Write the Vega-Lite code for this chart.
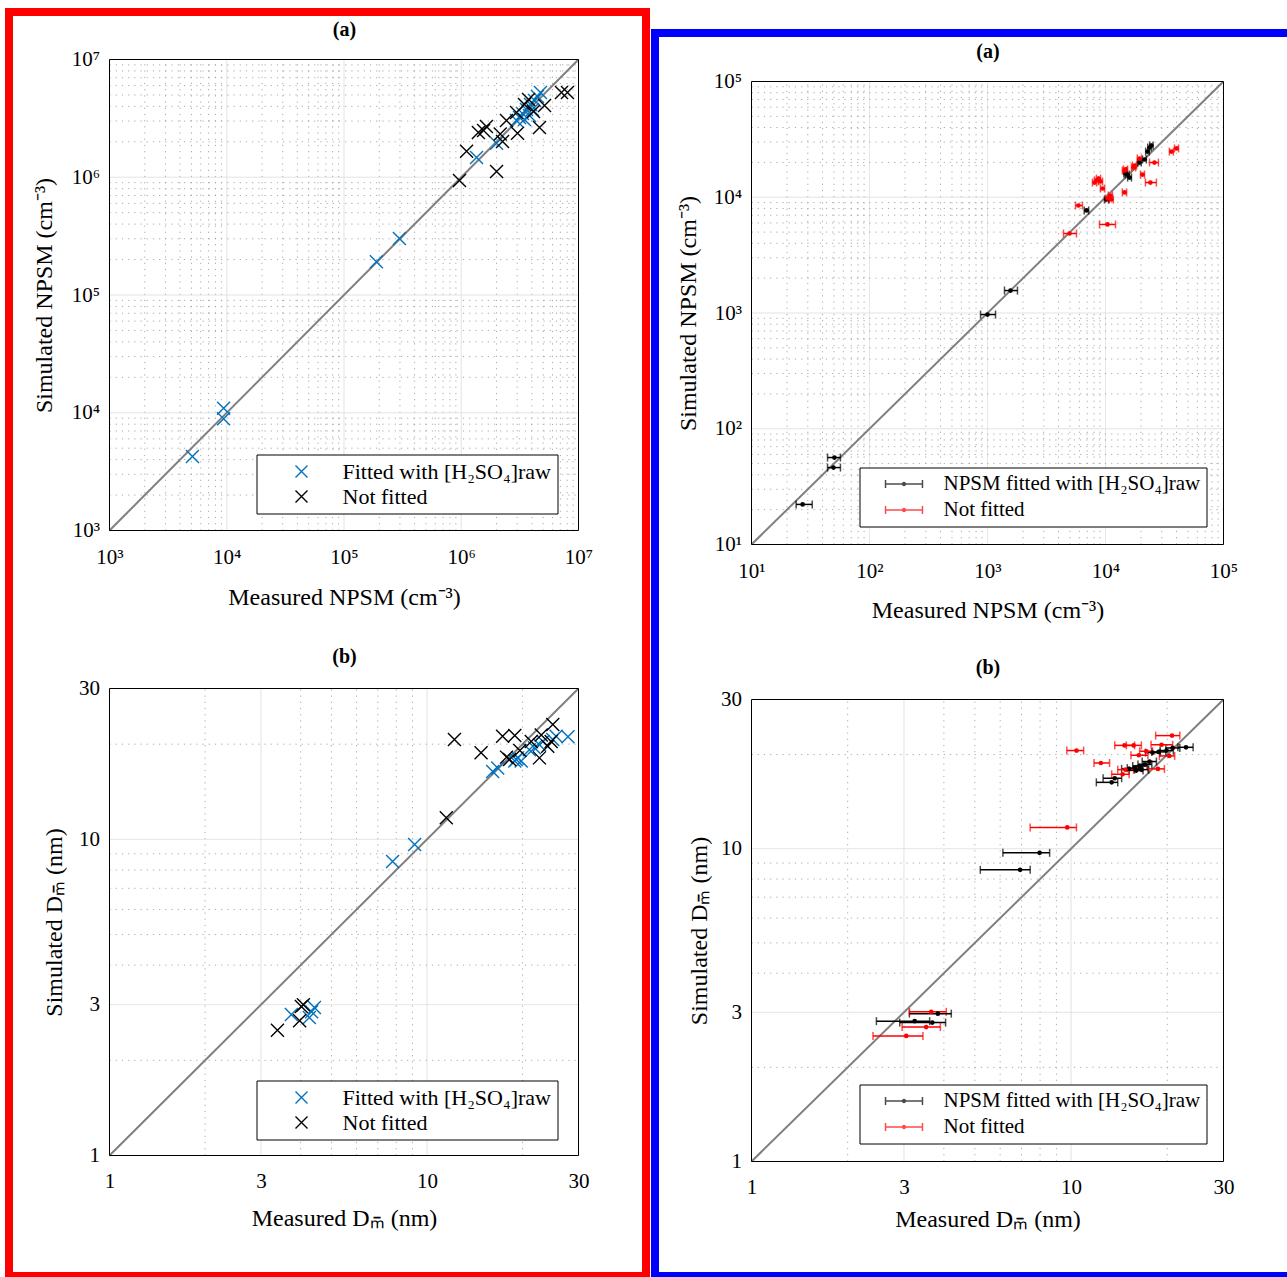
{
  "$schema": "https://vega.github.io/schema/vega-lite/v6.json",
  "background": "white",
  "padding": {"left": 5, "top": 8, "right": 0, "bottom": 0},
  "spacing": 1,
  "config": {
    "font": "Liberation Serif",
    "axis": {"labelFont": "Liberation Serif", "titleFont": "Liberation Serif", "labelFontSize": 21, "titleFontSize": 24, "labelColor": "black", "titleColor": "black", "titleFontWeight": "normal", "labelFlush": false, "labelOverlap": false, "ticks": false, "domain": false, "grid": false, "minExtent": 0},
    "legend": {"labelFont": "Liberation Serif", "labelFontSize": 21, "labelColor": "black", "labelLimit": 500}
  },
  "datasets": {
    "boxA": [{"lo": 1000, "hi": 10000000}],
    "boxB": [{"lo": 1, "hi": 30}],
    "boxR": [{"lo": 10, "hi": 100000}],
    "lineA": [{"v": 1000}, {"v": 10000000}],
    "lineB": [{"v": 1}, {"v": 30}],
    "lineR": [{"v": 10}, {"v": 100000}],
    "tA": [
      {"t": 1000, "m": 1}, {"t": 2000, "m": 0}, {"t": 3000, "m": 0}, {"t": 4000, "m": 0}, {"t": 5000, "m": 0}, {"t": 6000, "m": 0}, {"t": 7000, "m": 0}, {"t": 8000, "m": 0}, {"t": 9000, "m": 0},
      {"t": 10000, "m": 1}, {"t": 20000, "m": 0}, {"t": 30000, "m": 0}, {"t": 40000, "m": 0}, {"t": 50000, "m": 0}, {"t": 60000, "m": 0}, {"t": 70000, "m": 0}, {"t": 80000, "m": 0}, {"t": 90000, "m": 0},
      {"t": 100000, "m": 1}, {"t": 200000, "m": 0}, {"t": 300000, "m": 0}, {"t": 400000, "m": 0}, {"t": 500000, "m": 0}, {"t": 600000, "m": 0}, {"t": 700000, "m": 0}, {"t": 800000, "m": 0}, {"t": 900000, "m": 0},
      {"t": 1000000, "m": 1}, {"t": 2000000, "m": 0}, {"t": 3000000, "m": 0}, {"t": 4000000, "m": 0}, {"t": 5000000, "m": 0}, {"t": 6000000, "m": 0}, {"t": 7000000, "m": 0}, {"t": 8000000, "m": 0}, {"t": 9000000, "m": 0},
      {"t": 10000000, "m": 1}
    ],
    "tR": [
      {"t": 10, "m": 1}, {"t": 20, "m": 0}, {"t": 30, "m": 0}, {"t": 40, "m": 0}, {"t": 50, "m": 0}, {"t": 60, "m": 0}, {"t": 70, "m": 0}, {"t": 80, "m": 0}, {"t": 90, "m": 0},
      {"t": 100, "m": 1}, {"t": 200, "m": 0}, {"t": 300, "m": 0}, {"t": 400, "m": 0}, {"t": 500, "m": 0}, {"t": 600, "m": 0}, {"t": 700, "m": 0}, {"t": 800, "m": 0}, {"t": 900, "m": 0},
      {"t": 1000, "m": 1}, {"t": 2000, "m": 0}, {"t": 3000, "m": 0}, {"t": 4000, "m": 0}, {"t": 5000, "m": 0}, {"t": 6000, "m": 0}, {"t": 7000, "m": 0}, {"t": 8000, "m": 0}, {"t": 9000, "m": 0},
      {"t": 10000, "m": 1}, {"t": 20000, "m": 0}, {"t": 30000, "m": 0}, {"t": 40000, "m": 0}, {"t": 50000, "m": 0}, {"t": 60000, "m": 0}, {"t": 70000, "m": 0}, {"t": 80000, "m": 0}, {"t": 90000, "m": 0},
      {"t": 100000, "m": 1}
    ],
    "tB": [
      {"t": 1, "m": 1}, {"t": 2, "m": 0}, {"t": 3, "m": 1}, {"t": 4, "m": 0}, {"t": 5, "m": 0}, {"t": 6, "m": 0}, {"t": 7, "m": 0}, {"t": 8, "m": 0}, {"t": 9, "m": 0},
      {"t": 10, "m": 1}, {"t": 20, "m": 0}, {"t": 30, "m": 1}
    ],
    "LA": [
      {"x": 5100, "y": 4250, "g": "F"}, {"x": 9400, "y": 10900, "g": "F"}, {"x": 9400, "y": 8900, "g": "F"},
      {"x": 189000, "y": 192000, "g": "F"}, {"x": 297000, "y": 302000, "g": "F"}, {"x": 1350000, "y": 1470000, "g": "F"},
      {"x": 2000000, "y": 1940000, "g": "F"}, {"x": 4740000, "y": 5250000, "g": "F"}, {"x": 4470000, "y": 4850000, "g": "F"},
      {"x": 4220000, "y": 4490000, "g": "F"}, {"x": 3900000, "y": 4150000, "g": "F"}, {"x": 3600000, "y": 3760000, "g": "F"},
      {"x": 3330000, "y": 3480000, "g": "F"}, {"x": 3140000, "y": 3210000, "g": "F"}, {"x": 3460000, "y": 3090000, "g": "F"},
      {"x": 3820000, "y": 3340000, "g": "F"}, {"x": 4050000, "y": 3760000, "g": "F"}, {"x": 2960000, "y": 3030000, "g": "F"},
      {"x": 966000, "y": 938000, "g": "N"}, {"x": 1110000, "y": 1660000, "g": "N"}, {"x": 1400000, "y": 2400000, "g": "N"},
      {"x": 1640000, "y": 2700000, "g": "N"}, {"x": 1550000, "y": 2500000, "g": "N"}, {"x": 2000000, "y": 1120000, "g": "N"},
      {"x": 2250000, "y": 2010000, "g": "N"}, {"x": 2150000, "y": 2330000, "g": "N"}, {"x": 2430000, "y": 3030000, "g": "N"},
      {"x": 3020000, "y": 2360000, "g": "N"}, {"x": 2960000, "y": 3550000, "g": "N"}, {"x": 3460000, "y": 4150000, "g": "N"},
      {"x": 3750000, "y": 4570000, "g": "N"}, {"x": 4130000, "y": 3610000, "g": "N"}, {"x": 4650000, "y": 2640000, "g": "N"},
      {"x": 5130000, "y": 4060000, "g": "N"}, {"x": 7160000, "y": 5250000, "g": "N"}, {"x": 8050000, "y": 5250000, "g": "N"}
    ],
    "LB": [
      {"x": 7.79, "y": 8.51, "g": "F"}, {"x": 9.14, "y": 9.63, "g": "F"}, {"x": 3.74, "y": 2.79, "g": "F"},
      {"x": 4.42, "y": 2.94, "g": "F"}, {"x": 4.26, "y": 2.73, "g": "F"}, {"x": 4.33, "y": 2.85, "g": "F"},
      {"x": 16.1, "y": 16.4, "g": "F"}, {"x": 16.7, "y": 16.8, "g": "F"}, {"x": 19.1, "y": 17.9, "g": "F"},
      {"x": 19.3, "y": 18.1, "g": "F"}, {"x": 19.8, "y": 17.7, "g": "F"}, {"x": 18.9, "y": 17.7, "g": "F"},
      {"x": 21.0, "y": 19.2, "g": "F"}, {"x": 21.8, "y": 19.5, "g": "F"}, {"x": 22.6, "y": 19.9, "g": "F"},
      {"x": 23.2, "y": 20.4, "g": "F"}, {"x": 24.9, "y": 20.7, "g": "F"}, {"x": 27.8, "y": 21.1, "g": "F"},
      {"x": 25.5, "y": 21.2, "g": "F"},
      {"x": 3.38, "y": 2.49, "g": "N"}, {"x": 3.97, "y": 2.67, "g": "N"}, {"x": 4.02, "y": 2.96, "g": "N"},
      {"x": 4.08, "y": 3.0, "g": "N"}, {"x": 12.2, "y": 20.7, "g": "N"}, {"x": 11.5, "y": 11.7, "g": "N"},
      {"x": 14.8, "y": 18.8, "g": "N"}, {"x": 17.3, "y": 21.2, "g": "N"}, {"x": 18.9, "y": 21.3, "g": "N"},
      {"x": 17.8, "y": 18.2, "g": "N"}, {"x": 19.6, "y": 19.1, "g": "N"}, {"x": 21.3, "y": 20.4, "g": "N"},
      {"x": 22.9, "y": 21.4, "g": "N"}, {"x": 24.9, "y": 23.1, "g": "N"}, {"x": 24.0, "y": 19.7, "g": "N"},
      {"x": 22.6, "y": 18.1, "g": "N"}, {"x": 24.6, "y": 20.4, "g": "N"}, {"x": 18.2, "y": 17.9, "g": "N"}
    ],
    "RA": [
      {"x": 27.1, "y": 22.2, "lo": 23.9, "hi": 32.7, "g": "F"},
      {"x": 50.4, "y": 56.4, "lo": 44.1, "hi": 56.7, "g": "F"},
      {"x": 49.5, "y": 46.2, "lo": 44.1, "hi": 56.7, "g": "F"},
      {"x": 1000, "y": 970, "lo": 873, "hi": 1170, "g": "F"},
      {"x": 1567, "y": 1563, "lo": 1393, "hi": 1795, "g": "F"},
      {"x": 6900, "y": 7690, "lo": 6600, "hi": 7200, "g": "F"},
      {"x": 10200, "y": 9570, "lo": 9800, "hi": 10600, "g": "F"},
      {"x": 15300, "y": 15700, "lo": 14700, "hi": 15900, "g": "F"},
      {"x": 16000, "y": 14800, "lo": 15400, "hi": 16600, "g": "F"},
      {"x": 19400, "y": 20000, "lo": 18700, "hi": 20100, "g": "F"},
      {"x": 21400, "y": 21200, "lo": 20600, "hi": 22200, "g": "F"},
      {"x": 22700, "y": 24800, "lo": 21900, "hi": 23500, "g": "F"},
      {"x": 23600, "y": 26900, "lo": 22800, "hi": 24400, "g": "F"},
      {"x": 24500, "y": 28000, "lo": 23700, "hi": 25300, "g": "F"},
      {"x": 14800, "y": 16000, "lo": 14300, "hi": 15300, "g": "F"},
      {"x": 4955, "y": 4860, "lo": 4406, "hi": 5677, "g": "N"},
      {"x": 10400, "y": 5820, "lo": 8895, "hi": 12150, "g": "N"},
      {"x": 5900, "y": 8490, "lo": 5572, "hi": 6378, "g": "N"},
      {"x": 8070, "y": 13400, "lo": 7750, "hi": 8400, "g": "N"},
      {"x": 8400, "y": 14000, "lo": 8060, "hi": 8740, "g": "N"},
      {"x": 8730, "y": 14500, "lo": 8380, "hi": 9080, "g": "N"},
      {"x": 9080, "y": 13700, "lo": 8720, "hi": 9440, "g": "N"},
      {"x": 9440, "y": 11900, "lo": 9060, "hi": 9820, "g": "N"},
      {"x": 10400, "y": 9750, "lo": 9980, "hi": 10820, "g": "N"},
      {"x": 11000, "y": 10350, "lo": 10560, "hi": 11440, "g": "N"},
      {"x": 11200, "y": 9570, "lo": 10750, "hi": 11650, "g": "N"},
      {"x": 14500, "y": 11000, "lo": 13900, "hi": 15100, "g": "N"},
      {"x": 14500, "y": 17000, "lo": 13900, "hi": 15100, "g": "N"},
      {"x": 14800, "y": 17400, "lo": 14200, "hi": 15400, "g": "N"},
      {"x": 17300, "y": 18100, "lo": 16600, "hi": 18000, "g": "N"},
      {"x": 17600, "y": 18800, "lo": 16900, "hi": 18300, "g": "N"},
      {"x": 19400, "y": 21600, "lo": 18600, "hi": 20200, "g": "N"},
      {"x": 20600, "y": 15700, "lo": 19800, "hi": 21400, "g": "N"},
      {"x": 24000, "y": 13400, "lo": 21800, "hi": 27000, "g": "N"},
      {"x": 26000, "y": 19950, "lo": 23600, "hi": 28100, "g": "N"},
      {"x": 36200, "y": 24800, "lo": 34800, "hi": 37600, "g": "N"},
      {"x": 40000, "y": 26400, "lo": 38400, "hi": 41600, "g": "N"}
    ],
    "RB": [
      {"x": 22.9, "y": 21.1, "lo": 21.6, "hi": 24.1, "g": "F"},
      {"x": 20.8, "y": 21.0, "lo": 19.8, "hi": 21.9, "g": "F"},
      {"x": 19.9, "y": 20.6, "lo": 19.0, "hi": 20.9, "g": "F"},
      {"x": 18.8, "y": 20.4, "lo": 17.9, "hi": 19.8, "g": "F"},
      {"x": 18.0, "y": 20.3, "lo": 17.1, "hi": 19.0, "g": "F"},
      {"x": 17.6, "y": 19.0, "lo": 16.7, "hi": 18.5, "g": "F"},
      {"x": 17.0, "y": 18.6, "lo": 16.2, "hi": 17.9, "g": "F"},
      {"x": 16.4, "y": 18.4, "lo": 15.6, "hi": 17.3, "g": "F"},
      {"x": 15.8, "y": 18.1, "lo": 15.0, "hi": 16.7, "g": "F"},
      {"x": 15.2, "y": 18.0, "lo": 14.4, "hi": 16.0, "g": "F"},
      {"x": 16.0, "y": 17.8, "lo": 15.2, "hi": 16.8, "g": "F"},
      {"x": 16.6, "y": 17.9, "lo": 15.8, "hi": 17.5, "g": "F"},
      {"x": 13.7, "y": 16.8, "lo": 12.6, "hi": 14.4, "g": "F"},
      {"x": 13.4, "y": 16.3, "lo": 12.0, "hi": 14.0, "g": "F"},
      {"x": 7.97, "y": 9.70, "lo": 6.12, "hi": 8.57, "g": "F"},
      {"x": 6.93, "y": 8.56, "lo": 5.20, "hi": 7.45, "g": "F"},
      {"x": 3.83, "y": 2.97, "lo": 3.12, "hi": 4.22, "g": "F"},
      {"x": 3.24, "y": 2.81, "lo": 2.46, "hi": 3.61, "g": "F"},
      {"x": 3.68, "y": 2.78, "lo": 2.91, "hi": 4.05, "g": "F"},
      {"x": 20.7, "y": 23.0, "lo": 18.4, "hi": 21.9, "g": "N"},
      {"x": 10.4, "y": 20.6, "lo": 9.70, "hi": 10.95, "g": "N"},
      {"x": 14.7, "y": 21.4, "lo": 13.7, "hi": 15.8, "g": "N"},
      {"x": 15.7, "y": 21.4, "lo": 14.9, "hi": 16.6, "g": "N"},
      {"x": 19.2, "y": 21.5, "lo": 17.8, "hi": 20.8, "g": "N"},
      {"x": 16.3, "y": 19.9, "lo": 15.4, "hi": 17.4, "g": "N"},
      {"x": 12.4, "y": 18.8, "lo": 11.8, "hi": 13.2, "g": "N"},
      {"x": 18.7, "y": 18.0, "lo": 17.4, "hi": 19.6, "g": "N"},
      {"x": 14.8, "y": 17.9, "lo": 14.0, "hi": 15.7, "g": "N"},
      {"x": 14.5, "y": 17.3, "lo": 13.4, "hi": 15.2, "g": "N"},
      {"x": 20.3, "y": 19.8, "lo": 18.9, "hi": 21.1, "g": "N"},
      {"x": 17.2, "y": 20.5, "lo": 16.4, "hi": 18.0, "g": "N"},
      {"x": 9.73, "y": 11.7, "lo": 7.45, "hi": 10.4, "g": "N"},
      {"x": 3.65, "y": 3.01, "lo": 3.12, "hi": 4.07, "g": "N"},
      {"x": 3.52, "y": 2.69, "lo": 2.96, "hi": 3.90, "g": "N"},
      {"x": 3.05, "y": 2.52, "lo": 2.40, "hi": 3.44, "g": "N"}
    ]
  },
  "hconcat": [
    {
      "width": 637,
      "height": 1264,
      "view": {"stroke": "#FF0000", "strokeWidth": 8, "fill": "white"},
      "resolve": {"scale": {"x": "independent", "y": "independent", "color": "independent"}},
      "layer": [
        {
          "resolve": {"axis": {"x": "independent", "y": "independent"}},
          "layer": [
            {
              "data": {"name": "tA"},
              "mark": {"type": "rule", "strokeWidth": 1},
              "encoding": {
                "x": {"field": "t", "type": "quantitative", "axis": null, "scale": {"type": "log", "domain": [1000, 10000000], "range": [100.5, 569.5], "nice": false}},
                "y": {"datum": 1000, "type": "quantitative", "axis": null, "scale": {"type": "log", "domain": [1000, 10000000], "range": [518.5, 47.5], "nice": false}},
                "y2": {"datum": 10000000},
                "color": {"condition": {"test": "datum.m == 1", "value": "#dedede"}, "value": "#a8a8a8"},
                "strokeDash": {"condition": {"test": "datum.m == 1", "value": [1, 0]}, "value": [1.2, 5]}
              }
            },
            {
              "data": {"name": "tA"},
              "mark": {"type": "rule", "strokeWidth": 1},
              "encoding": {
                "y": {"field": "t", "type": "quantitative", "axis": null},
                "x": {"datum": 1000, "type": "quantitative", "axis": null},
                "x2": {"datum": 10000000},
                "color": {"condition": {"test": "datum.m == 1", "value": "#dedede"}, "value": "#a8a8a8"},
                "strokeDash": {"condition": {"test": "datum.m == 1", "value": [1, 0]}, "value": [1.2, 5]}
              }
            },
            {
              "data": {"name": "lineA"},
              "mark": {"type": "line", "color": "#7f7f7f", "strokeWidth": 2},
              "encoding": {
                "x": {"field": "v", "type": "quantitative",
                  "axis": {"orient": "top", "offset": -47.5, "title": "(a)", "titleFontWeight": "bold", "titleFontSize": 20, "titlePadding": 20, "labels": false}},
                "y": {"field": "v", "type": "quantitative", "axis": null}
              }
            },
            {
              "data": {"name": "LA"},
              "mark": {"type": "point", "shape": "M-1,-1L1,1M-1,1L1,-1", "filled": false, "size": 169, "strokeWidth": 1.4, "opacity": 1},
              "encoding": {
                "x": {"field": "x", "type": "quantitative", "axis": null},
                "y": {"field": "y", "type": "quantitative", "axis": null},
                "color": {"field": "g", "type": "nominal", "scale": {"domain": ["F", "N"], "range": ["#0072BD", "#000000"]},
                  "legend": {"orient": "none", "legendX": 247.5, "legendY": 442.5, "title": null, "labelExpr": "datum.value == 'F' ? 'Fitted with [H₂SO₄]raw' : 'Not fitted'", "labelFontSize": 22, "symbolType": "M-1,-1L1,1M-1,1L1,-1", "symbolSize": 144, "symbolStrokeWidth": 1.4, "strokeColor": "black", "fillColor": "white", "padding": 6, "rowPadding": 3, "symbolOffset": 28, "labelOffset": 30}}
              }
            },
            {
              "data": {"name": "boxA"},
              "mark": {"type": "rect", "filled": false, "color": "black", "strokeWidth": 1},
              "encoding": {
                "x": {"field": "lo", "type": "quantitative",
                  "axis": {"orient": "bottom", "offset": -745.5, "values": [1000, 10000, 100000, 1000000, 10000000],
                    "labelExpr": "'10'+['⁰','¹','²','³','⁴','⁵','⁶','⁷'][round(log(datum.value)/LN10)]",
                    "labelPadding": 16, "title": "Measured NPSM (cm⁻³)", "titlePadding": 18}},
                "x2": {"field": "hi"},
                "y": {"field": "lo", "type": "quantitative",
                  "axis": {"orient": "left", "offset": -100.5, "values": [1000, 10000, 100000, 1000000, 10000000],
                    "labelExpr": "'10'+['⁰','¹','²','³','⁴','⁵','⁶','⁷'][round(log(datum.value)/LN10)]",
                    "labelPadding": 10, "title": "Simulated NPSM (cm⁻³)", "titlePadding": 15}},
                "y2": {"field": "hi"}
              }
            }
          ]
        },
        {
          "resolve": {"axis": {"x": "independent", "y": "independent"}},
          "layer": [
            {
              "data": {"name": "tB"},
              "mark": {"type": "rule", "strokeWidth": 1},
              "encoding": {
                "x": {"field": "t", "type": "quantitative", "axis": null, "scale": {"type": "log", "domain": [1, 30], "range": [100.5, 569.5], "nice": false}},
                "y": {"datum": 1, "type": "quantitative", "axis": null, "scale": {"type": "log", "domain": [1, 30], "range": [1143.5, 676.5], "nice": false}},
                "y2": {"datum": 30},
                "color": {"condition": {"test": "datum.m == 1", "value": "#dedede"}, "value": "#a8a8a8"},
                "strokeDash": {"condition": {"test": "datum.m == 1", "value": [1, 0]}, "value": [1.2, 5]}
              }
            },
            {
              "data": {"name": "tB"},
              "mark": {"type": "rule", "strokeWidth": 1},
              "encoding": {
                "y": {"field": "t", "type": "quantitative", "axis": null},
                "x": {"datum": 1, "type": "quantitative", "axis": null},
                "x2": {"datum": 30},
                "color": {"condition": {"test": "datum.m == 1", "value": "#dedede"}, "value": "#a8a8a8"},
                "strokeDash": {"condition": {"test": "datum.m == 1", "value": [1, 0]}, "value": [1.2, 5]}
              }
            },
            {
              "data": {"name": "lineB"},
              "mark": {"type": "line", "color": "#7f7f7f", "strokeWidth": 2},
              "encoding": {
                "x": {"field": "v", "type": "quantitative",
                  "axis": {"orient": "top", "offset": -676.5, "title": "(b)", "titleFontWeight": "bold", "titleFontSize": 20, "titlePadding": 22, "labels": false}},
                "y": {"field": "v", "type": "quantitative", "axis": null}
              }
            },
            {
              "data": {"name": "LB"},
              "mark": {"type": "point", "shape": "M-1,-1L1,1M-1,1L1,-1", "filled": false, "size": 169, "strokeWidth": 1.4, "opacity": 1},
              "encoding": {
                "x": {"field": "x", "type": "quantitative", "axis": null},
                "y": {"field": "y", "type": "quantitative", "axis": null},
                "color": {"field": "g", "type": "nominal", "scale": {"domain": ["F", "N"], "range": ["#0072BD", "#000000"]},
                  "legend": {"orient": "none", "legendX": 247.5, "legendY": 1068.5, "title": null, "labelExpr": "datum.value == 'F' ? 'Fitted with [H₂SO₄]raw' : 'Not fitted'", "labelFontSize": 22, "symbolType": "M-1,-1L1,1M-1,1L1,-1", "symbolSize": 144, "symbolStrokeWidth": 1.4, "strokeColor": "black", "fillColor": "white", "padding": 6, "rowPadding": 3, "symbolOffset": 28, "labelOffset": 30}}
              }
            },
            {
              "data": {"name": "boxB"},
              "mark": {"type": "rect", "filled": false, "color": "black", "strokeWidth": 1},
              "encoding": {
                "x": {"field": "lo", "type": "quantitative",
                  "axis": {"orient": "bottom", "offset": -120.5, "values": [1, 3, 10, 30], "labelExpr": "format(datum.value, 'd')",
                    "labelPadding": 15, "title": "Measured Dₘ̄ (nm)", "titlePadding": 15}},
                "x2": {"field": "hi"},
                "y": {"field": "lo", "type": "quantitative",
                  "axis": {"orient": "left", "offset": -100.5, "values": [1, 3, 10, 30], "labelExpr": "format(datum.value, 'd')",
                    "labelPadding": 10, "title": "Simulated Dₘ̄ (nm)", "titlePadding": 12}},
                "y2": {"field": "hi"}
              }
            }
          ]
        }
      ]
    },
    {
      "spacing": 0,
      "vconcat": [
        {
          "width": 10,
          "height": 17,
          "data": {"values": [{}]},
          "mark": {"type": "point", "opacity": 0},
          "view": {"stroke": null}
        },
        {
          "width": 640,
          "height": 1243,
          "view": {"stroke": "#0000FF", "strokeWidth": 8, "fill": "white"},
          "resolve": {"scale": {"x": "independent", "y": "independent", "color": "independent"}},
          "layer": [
            {
              "resolve": {"axis": {"x": "independent", "y": "independent"}},
              "layer": [
                {
                  "data": {"name": "tR"},
                  "mark": {"type": "rule", "strokeWidth": 1},
                  "encoding": {
                    "x": {"field": "t", "type": "quantitative", "axis": null, "scale": {"type": "log", "domain": [10, 100000], "range": [96.5, 568.5], "nice": false}},
                    "y": {"datum": 10, "type": "quantitative", "axis": null, "scale": {"type": "log", "domain": [10, 100000], "range": [511.5, 48.5], "nice": false}},
                    "y2": {"datum": 100000},
                    "color": {"condition": {"test": "datum.m == 1", "value": "#dedede"}, "value": "#a8a8a8"},
                    "strokeDash": {"condition": {"test": "datum.m == 1", "value": [1, 0]}, "value": [1.2, 5]}
                  }
                },
                {
                  "data": {"name": "tR"},
                  "mark": {"type": "rule", "strokeWidth": 1},
                  "encoding": {
                    "y": {"field": "t", "type": "quantitative", "axis": null},
                    "x": {"datum": 10, "type": "quantitative", "axis": null},
                    "x2": {"datum": 100000},
                    "color": {"condition": {"test": "datum.m == 1", "value": "#dedede"}, "value": "#a8a8a8"},
                    "strokeDash": {"condition": {"test": "datum.m == 1", "value": [1, 0]}, "value": [1.2, 5]}
                  }
                },
                {
                  "data": {"name": "lineR"},
                  "mark": {"type": "line", "color": "#7f7f7f", "strokeWidth": 2},
                  "encoding": {
                    "x": {"field": "v", "type": "quantitative",
                      "axis": {"orient": "top", "offset": -48.5, "title": "(a)", "titleFontWeight": "bold", "titleFontSize": 20, "titlePadding": 20, "labels": false}},
                    "y": {"field": "v", "type": "quantitative", "axis": null}
                  }
                },
                {
                  "data": {"name": "RA"},
                  "mark": {"type": "errorbar", "ticks": {"size": 8, "thickness": 1.5}, "thickness": 1.5},
                  "encoding": {
                    "x": {"field": "lo", "type": "quantitative", "axis": null},
                    "x2": {"field": "hi"},
                    "y": {"field": "y", "type": "quantitative", "axis": null},
                    "color": {"field": "g", "type": "nominal", "scale": {"domain": ["F", "N"], "range": ["#000000", "#FF0000"]},
                      "legend": {"orient": "none", "legendX": 204.5, "legendY": 434.5, "title": null, "labelExpr": "datum.value == 'F' ? 'NPSM fitted with [H₂SO₄]raw' : 'Not fitted'", "symbolType": "M-3.08,0L3.08,0M-3.08,-0.67L-3.08,0.67M3.08,-0.67L3.08,0.67M-0.25,0A0.25,0.25 0 1,0 0.25,0A0.25,0.25 0 1,0 -0.25,0Z", "symbolSize": 144, "symbolStrokeWidth": 1.5, "strokeColor": "black", "fillColor": "white", "padding": 6, "rowPadding": 4, "symbolOffset": 28, "labelOffset": 29}}
                  }
                },
                {
                  "data": {"name": "RA"},
                  "mark": {"type": "point", "shape": "circle", "filled": true, "size": 22, "opacity": 1},
                  "encoding": {
                    "x": {"field": "x", "type": "quantitative", "axis": null},
                    "y": {"field": "y", "type": "quantitative", "axis": null},
                    "color": {"field": "g", "type": "nominal", "legend": null}
                  }
                },
                {
                  "data": {"name": "boxR"},
                  "mark": {"type": "rect", "filled": false, "color": "black", "strokeWidth": 1},
                  "encoding": {
                    "x": {"field": "lo", "type": "quantitative",
                      "axis": {"orient": "bottom", "offset": -731.5, "values": [10, 100, 1000, 10000, 100000],
                        "labelExpr": "'10'+['⁰','¹','²','³','⁴','⁵','⁶','⁷'][round(log(datum.value)/LN10)]",
                        "labelPadding": 16, "title": "Measured NPSM (cm⁻³)", "titlePadding": 17}},
                    "x2": {"field": "hi"},
                    "y": {"field": "lo", "type": "quantitative",
                      "axis": {"orient": "left", "offset": -96.5, "values": [10, 100, 1000, 10000, 100000],
                        "labelExpr": "'10'+['⁰','¹','²','³','⁴','⁵','⁶','⁷'][round(log(datum.value)/LN10)]",
                        "labelPadding": 10, "title": "Simulated NPSM (cm⁻³)", "titlePadding": 13}},
                    "y2": {"field": "hi"}
                  }
                }
              ]
            },
            {
              "resolve": {"axis": {"x": "independent", "y": "independent"}},
              "layer": [
                {
                  "data": {"name": "tB"},
                  "mark": {"type": "rule", "strokeWidth": 1},
                  "encoding": {
                    "x": {"field": "t", "type": "quantitative", "axis": null, "scale": {"type": "log", "domain": [1, 30], "range": [96.5, 568.5], "nice": false}},
                    "y": {"datum": 1, "type": "quantitative", "axis": null, "scale": {"type": "log", "domain": [1, 30], "range": [1128.5, 666.5], "nice": false}},
                    "y2": {"datum": 30},
                    "color": {"condition": {"test": "datum.m == 1", "value": "#dedede"}, "value": "#a8a8a8"},
                    "strokeDash": {"condition": {"test": "datum.m == 1", "value": [1, 0]}, "value": [1.2, 5]}
                  }
                },
                {
                  "data": {"name": "tB"},
                  "mark": {"type": "rule", "strokeWidth": 1},
                  "encoding": {
                    "y": {"field": "t", "type": "quantitative", "axis": null},
                    "x": {"datum": 1, "type": "quantitative", "axis": null},
                    "x2": {"datum": 30},
                    "color": {"condition": {"test": "datum.m == 1", "value": "#dedede"}, "value": "#a8a8a8"},
                    "strokeDash": {"condition": {"test": "datum.m == 1", "value": [1, 0]}, "value": [1.2, 5]}
                  }
                },
                {
                  "data": {"name": "lineB"},
                  "mark": {"type": "line", "color": "#7f7f7f", "strokeWidth": 2},
                  "encoding": {
                    "x": {"field": "v", "type": "quantitative",
                      "axis": {"orient": "top", "offset": -666.5, "title": "(b)", "titleFontWeight": "bold", "titleFontSize": 20, "titlePadding": 22, "labels": false}},
                    "y": {"field": "v", "type": "quantitative", "axis": null}
                  }
                },
                {
                  "data": {"name": "RB"},
                  "mark": {"type": "errorbar", "ticks": {"size": 8, "thickness": 1.5}, "thickness": 1.5},
                  "encoding": {
                    "x": {"field": "lo", "type": "quantitative", "axis": null},
                    "x2": {"field": "hi"},
                    "y": {"field": "y", "type": "quantitative", "axis": null},
                    "color": {"field": "g", "type": "nominal", "scale": {"domain": ["F", "N"], "range": ["#000000", "#FF0000"]},
                      "legend": {"orient": "none", "legendX": 204.5, "legendY": 1051.5, "title": null, "labelExpr": "datum.value == 'F' ? 'NPSM fitted with [H₂SO₄]raw' : 'Not fitted'", "symbolType": "M-3.08,0L3.08,0M-3.08,-0.67L-3.08,0.67M3.08,-0.67L3.08,0.67M-0.25,0A0.25,0.25 0 1,0 0.25,0A0.25,0.25 0 1,0 -0.25,0Z", "symbolSize": 144, "symbolStrokeWidth": 1.5, "strokeColor": "black", "fillColor": "white", "padding": 6, "rowPadding": 4, "symbolOffset": 28, "labelOffset": 29}}
                  }
                },
                {
                  "data": {"name": "RB"},
                  "mark": {"type": "point", "shape": "circle", "filled": true, "size": 22, "opacity": 1},
                  "encoding": {
                    "x": {"field": "x", "type": "quantitative", "axis": null},
                    "y": {"field": "y", "type": "quantitative", "axis": null},
                    "color": {"field": "g", "type": "nominal", "legend": null}
                  }
                },
                {
                  "data": {"name": "boxB"},
                  "mark": {"type": "rect", "filled": false, "color": "black", "strokeWidth": 1},
                  "encoding": {
                    "x": {"field": "lo", "type": "quantitative",
                      "axis": {"orient": "bottom", "offset": -114.5, "values": [1, 3, 10, 30], "labelExpr": "format(datum.value, 'd')",
                        "labelPadding": 15, "title": "Measured Dₘ̄ (nm)", "titlePadding": 10}},
                    "x2": {"field": "hi"},
                    "y": {"field": "lo", "type": "quantitative",
                      "axis": {"orient": "left", "offset": -96.5, "values": [1, 3, 10, 30], "labelExpr": "format(datum.value, 'd')",
                        "labelPadding": 10, "title": "Simulated Dₘ̄ (nm)", "titlePadding": 9}},
                    "y2": {"field": "hi"}
                  }
                }
              ]
            }
          ]
        }
      ]
    }
  ]
}
